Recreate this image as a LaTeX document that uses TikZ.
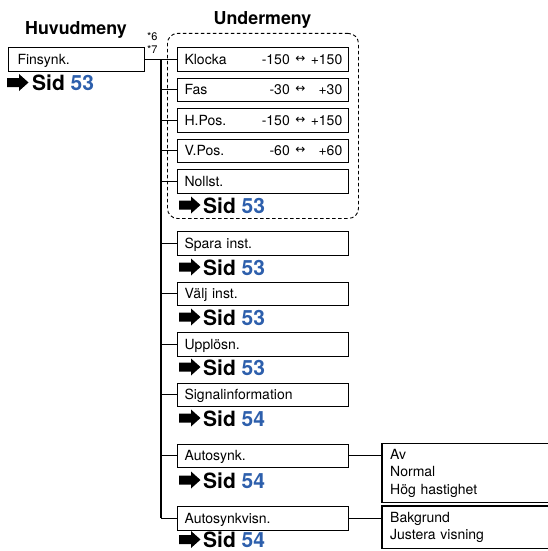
\documentclass[tikz,border=0pt]{standalone}
\usepackage{fontspec}
\setmainfont{TeX Gyre Heros}
\newfontfamily\symfont{DejaVu Sans}
\definecolor{sidblue}{RGB}{45,95,172}
\begin{document}
\begin{tikzpicture}[x=1pt,y=-1pt,
  boxline/.style={line width=1.1pt},
  conn/.style={line width=1.1pt},
  mbox/.style={draw, boxline, anchor=north west, minimum height=23.5, inner ysep=0pt,
    inner xsep=7pt, text width=157pt, align=left, text height=10.2pt, text depth=0pt,
    font=\fontsize{14}{17}\selectfont},
  valtxt/.style={anchor=east, inner sep=0pt, text height=10.2pt, text depth=0pt,
    font=\fontsize{14}{17}\selectfont},
  arrtxt/.style={anchor=center, inner sep=0pt, font=\symfont\fontsize{12}{14}\selectfont},
  subtxt/.style={anchor=north west, inner xsep=8pt, inner ysep=0pt, text width=164pt,
    align=left, font=\fontsize{14}{17.5}\selectfont},
  sidtxt/.style={anchor=base west, inner sep=0pt, font=\fontsize{21}{21}\selectfont\bfseries},
  head/.style={anchor=base, inner sep=0pt, font=\fontsize{17.8}{18}\selectfont\bfseries},
  star/.style={anchor=base west, inner sep=0pt, font=\fontsize{11}{11}\selectfont},
  sidarrow/.pic={\fill (0,-4.5) -- (12,-4.5) -- (12,-8.5) -- (21.5,0) -- (12,8.5) -- (12,4.5) -- (0,4.5) -- cycle;}
]
\useasboundingbox (0,0) rectangle (548,551);
\clip (0,0) rectangle (548,551);

% headings
\node[head] (hm) at (76,35) {Huvudmeny};
\node[head] (um) at (262.5,25) {Undermeny};
\node[star] (st6) at (147,41) {*6};
\node[star] (st7) at (147,54) {*7};

% main menu
\node[mbox, inner xsep=9.5pt, text width=117pt] (fin) at (7.5,47) {Finsynk.};
\pic at (7,82.5) {sidarrow};
\node[sidtxt] (s0) at (32,90.5) {Sid \textcolor{sidblue}{53}};

% dashed group
\node[draw, dashed, dash pattern=on 3.5pt off 2.5pt, line width=0.9pt, rounded corners=10pt,
  anchor=north west, minimum width=191pt, minimum height=185pt, inner sep=0pt] (grp) at (167,33) {};

% submenu boxes
\node[mbox] (klocka) at (177,47) {Klocka};
\node[mbox] (fas) at (177,77.5) {Fas};
\node[mbox] (hpos) at (177,108) {H.Pos.};
\node[mbox] (vpos) at (177,138.5) {V.Pos.};
\node[mbox] (noll) at (177,169) {Nollst.};
\node[mbox] (spara) at (177,231) {Spara inst.};
\node[mbox] (valj) at (177,281.5) {Välj inst.};
\node[mbox] (upp) at (177,332) {Upplösn.};
\node[mbox] (sig) at (177,382.5) {Signalinformation};
\node[mbox] (asynk) at (177,443.5) {Autosynk.};
\node[mbox] (avisn) at (177,506) {Autosynkvisn.};

% value columns
\coordinate (cl) at (290,0);
\coordinate (ca) at (300.5,0);
\coordinate (cr) at (342.5,0);
\node[valtxt] (kl) at (klocka.west -| cl) {-150};
\node[arrtxt] (ka) at (klocka.west -| ca) {↔};
\node[valtxt] (kr) at (klocka.west -| cr) {+150};
\node[valtxt] (fl) at (fas.west -| cl) {-30};
\node[arrtxt] (fa) at (fas.west -| ca) {↔};
\node[valtxt] (fr) at (fas.west -| cr) {+30};
\node[valtxt] (hl) at (hpos.west -| cl) {-150};
\node[arrtxt] (ha) at (hpos.west -| ca) {↔};
\node[valtxt] (hr) at (hpos.west -| cr) {+150};
\node[valtxt] (vl) at (vpos.west -| cl) {-60};
\node[arrtxt] (va) at (vpos.west -| ca) {↔};
\node[valtxt] (vr) at (vpos.west -| cr) {+60};

% page references
\foreach \nm/\yb/\pg in {s1/213/53, s2/275/53, s3/325/53, s4/375/53, s5/426/54, s6/488/54, s7/547.5/54}{
  \pic at (179,\yb-8) {sidarrow};
  \node[sidtxt] (\nm) at (203,\yb) {Sid \textcolor{sidblue}{\pg}};
}

% third level
\node[subtxt, minimum height=59pt] (asub) at (382,443.5) {Av\\Normal\\Hög hastighet};
\draw[boxline] (asub.north east) -- (asub.north west) -- (asub.south west) -- (asub.south east);
\node[subtxt, minimum height=42pt] (vsub) at (382,506) {Bakgrund\\Justera visning};
\draw[boxline] (vsub.north east) -- (vsub.north west) -- (vsub.south west) -- (vsub.south east);

% connectors
\coordinate (tx) at (161,0);
\draw[conn] (fin.east) -- (klocka.west);
\draw[conn] (fin.east -| tx) -- (avisn.west -| tx);
\foreach \b in {fas,hpos,vpos,noll,spara,valj,upp,sig,asynk,avisn}{
  \draw[conn] (\b.west -| tx) -- (\b.west);
}
\draw[conn] (asynk.east) -- (asynk.east -| asub.west);
\draw[conn] (avisn.east) -- (avisn.east -| vsub.west);
\end{tikzpicture}
\end{document}
